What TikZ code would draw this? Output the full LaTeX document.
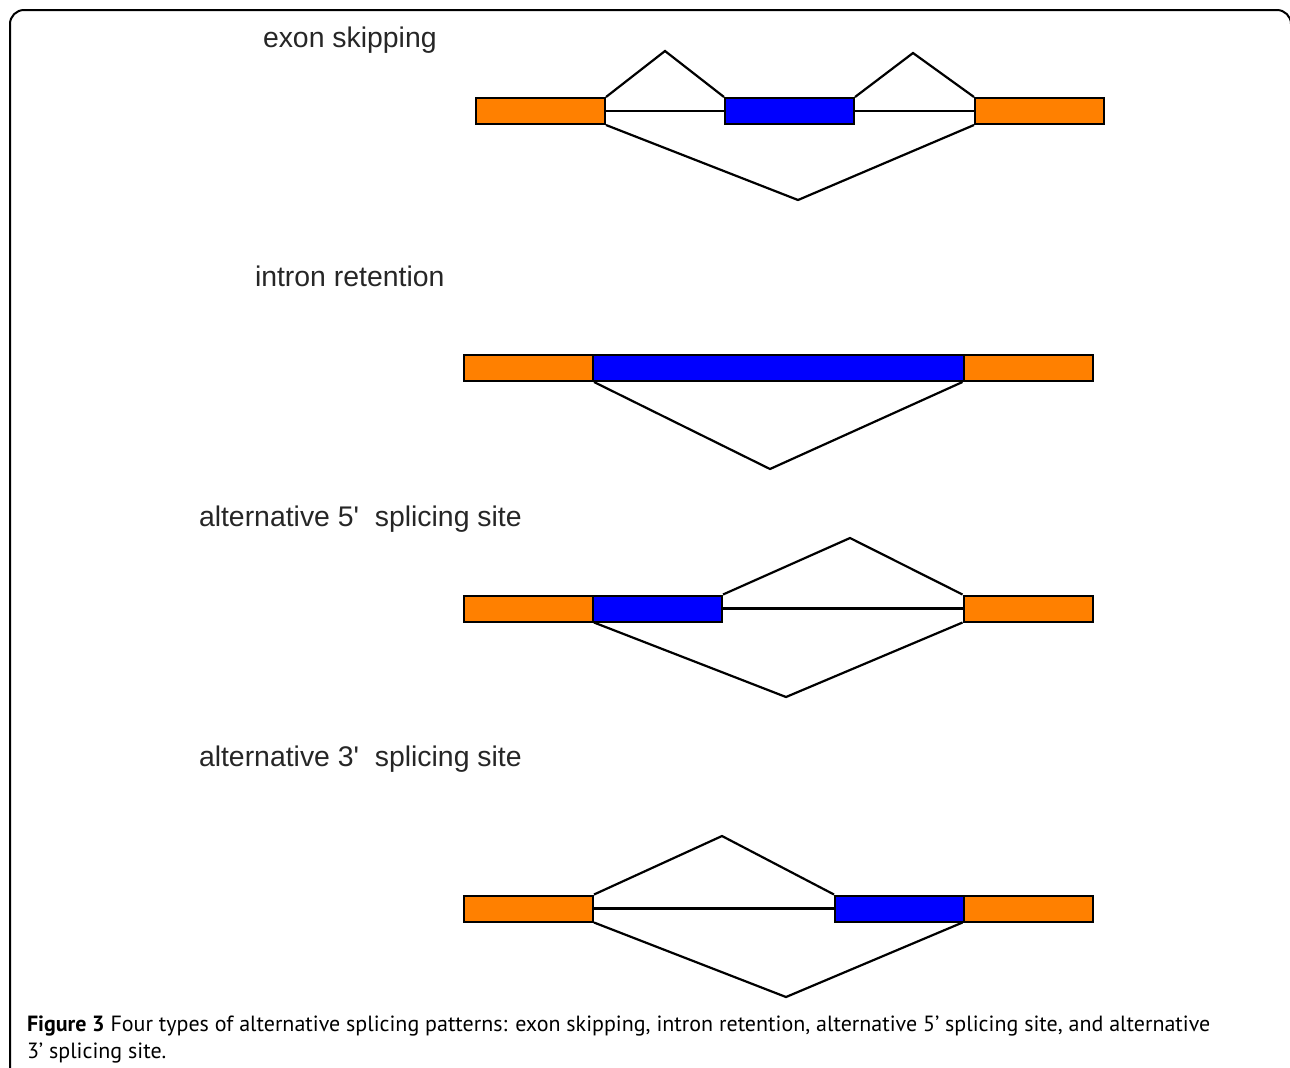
\documentclass[tikz,border=0pt]{standalone}
\usepackage{fontspec}
\setmainfont{Liberation Sans}
\newfontfamily\capfont{PT Sans}
\definecolor{exorange}{RGB}{255,128,0}
\definecolor{exblue}{RGB}{0,0,255}
\definecolor{labgray}{RGB}{38,38,38}

\begin{document}
\begin{tikzpicture}[x=0.5pt, y=-0.5pt, line width=1pt,
		box/.style={draw, inner sep=0pt, minimum height=13pt, minimum width=64.5pt},
		const/.style={box, fill=exorange},
		alter/.style={box, fill=exblue},
		intron/.style={line width=1.1pt},
		lab/.style={anchor=base west, inner sep=0pt, text=labgray, font=\fontsize{14.2}{17}\selectfont}]
		\useasboundingbox (0,0) rectangle (1290,1067);
		% frame
		\draw[rounded corners=7pt] (10,1080) -- (10,10) -- (1291,10) -- (1291,1080);
		% (a) exon skipping
		\begin{scope}
			\node[lab] (la) at (262,47) {exon skipping};
			\node[const] (a1) at (540.5,111) {};
			\node[alter] (a2) at (789.5,111) {};
			\node[const] (a3) at (1039.5,111) {};
			\coordinate (pa1) at (665,51);
			\coordinate (pa2) at (913,53);
			\coordinate (va) at (798,200);
			\draw[intron] (a1.north east) -- (pa1) -- (a2.north west);
			\draw[intron] (a2.north east) -- (pa2) -- (a3.north west);
			\draw[intron] (a1.east) -- (a2.west);
			\draw[intron] (a2.east) -- (a3.west);
			\draw[intron] (a1.south east) -- (va) -- (a3.south west);
		\end{scope}
		% (b) intron retention
		\begin{scope}
			\node[lab] (lb) at (254,286) {intron retention};
			\node[const] (b1) at (528.5,368) {};
			\node[alter, minimum width=185.5pt] (b2) at (778.5,368) {};
			\node[const] (b3) at (1028,368) {};
			\coordinate (vb) at (770,469);
			\draw[intron] (b1.south east) -- (vb) -- (b3.south west);
		\end{scope}
		% (c) alternative 5' site
		\begin{scope}
			\node[lab] (lc) at (198,526) {alternative 5\textquotesingle\ \ splicing site};
			\node[const] (c1) at (528.5,608.5) {};
			\node[alter] (c2) at (657.5,608.5) {};
			\node[const] (c3) at (1028,608.5) {};
			\coordinate (pc) at (850,538);
			\coordinate (vc) at (786,697);
			\draw[intron] (c2.north east) -- (pc) -- (c3.north west);
			\draw[intron] (c2.east) -- (c3.west);
			\draw[intron] (c1.south east) -- (vc) -- (c3.south west);
		\end{scope}
		% (d) alternative 3' site
		\begin{scope}
			\node[lab] (ld) at (198,766) {alternative 3\textquotesingle\ \ splicing site};
			\node[const] (d1) at (528.5,908.5) {};
			\node[alter] (d2) at (899.5,908.5) {};
			\node[const] (d3) at (1028,908.5) {};
			\coordinate (pd) at (722,836);
			\coordinate (vd) at (786,997);
			\draw[intron] (d1.north east) -- (pd) -- (d2.north west);
			\draw[intron] (d1.east) -- (d2.west);
			\draw[intron] (d1.south east) -- (vd) -- (d3.south west);
		\end{scope}
		% caption (base = last line)
		\node[anchor=base west, align=left, inner sep=0pt, font=\capfont\fontsize{11}{13.5}\selectfont] (cap) at (26,1058)
			{\textbf{Figure 3} Four types of alternative splicing patterns: exon skipping, intron retention, alternative 5’ splicing site, and alternative\\3’ splicing site.};
	\end{tikzpicture}
\end{document}
